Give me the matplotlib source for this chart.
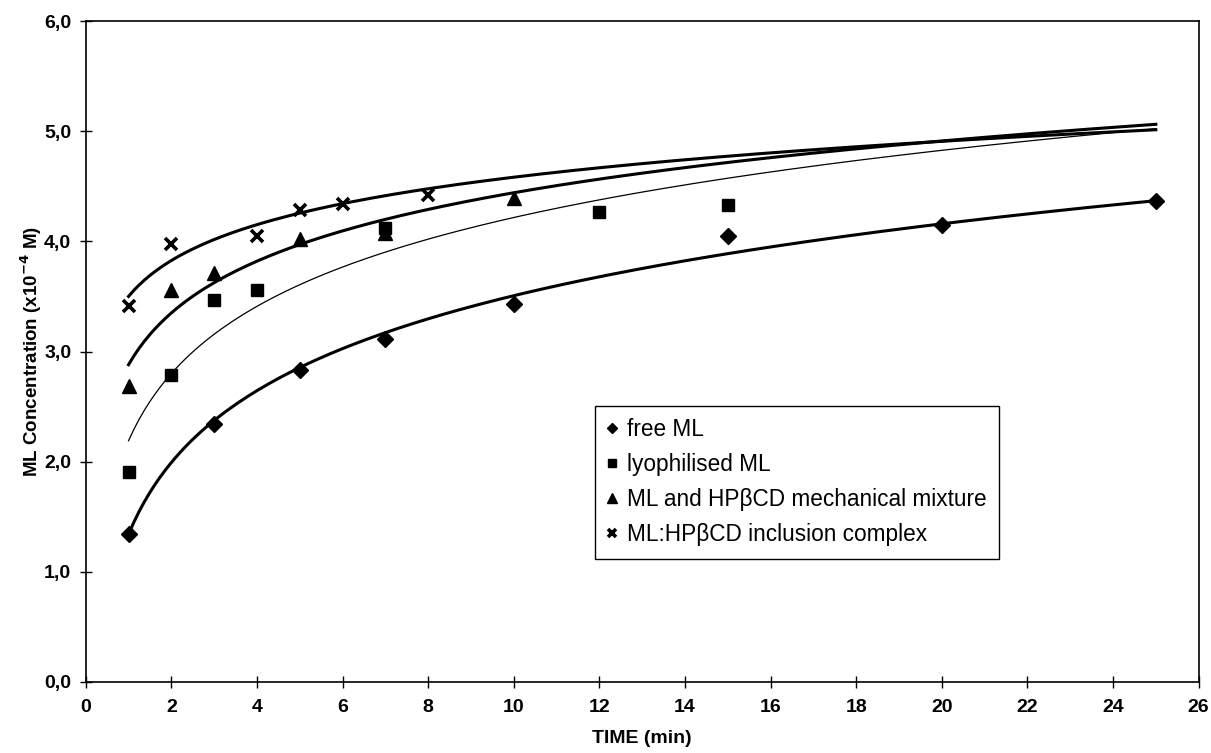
import numpy as np
import matplotlib.pyplot as plt
from matplotlib.ticker import FuncFormatter

plt.rcParams['font.family'] = ['Liberation Sans', 'DejaVu Sans']

# measured points (time in min, concentration x10^-4 M)
t_free = [1, 3, 5, 7, 10, 15, 20, 25]
c_free = [1.34, 2.34, 2.83, 3.11, 3.43, 4.05, 4.15, 4.37]

t_lyo = [1, 2, 3, 4, 7, 12, 15]
c_lyo = [1.91, 2.79, 3.47, 3.56, 4.12, 4.27, 4.33]

t_mix = [1, 2, 3, 5, 7, 10]
c_mix = [2.69, 3.56, 3.71, 4.02, 4.08, 4.39]

t_inc = [1, 2, 4, 5, 6, 8]
c_inc = [3.41, 3.98, 4.05, 4.28, 4.34, 4.42]

labels = ['free ML', 'lyophilised ML',
          'ML and HP\u03b2CD mechanical mixture',
          'ML:HP\u03b2CD inclusion complex']

# logarithmic trendlines y = a + b*ln(t), coefficients
trend_a = [1.34, 2.19, 2.88, 3.50]
trend_b = [0.941, 0.88, 0.678, 0.47]
trend_lw = [2.2, 0.9, 2.2, 2.2]

fig = plt.figure(figsize=(12.11, 7.53), dpi=100)
ax = fig.add_axes([0.0708, 0.0943, 0.919, 0.8778])

tt = np.linspace(1, 25, 200)
for a, b, lw in zip(trend_a, trend_b, trend_lw):
    ax.plot(tt, a + b * np.log(tt), color='black', lw=lw, zorder=2)

ax.plot(t_free, c_free, 'D', color='black', ms=8, ls='none', label=labels[0], zorder=3)
ax.plot(t_lyo, c_lyo, 's', color='black', ms=8.5, ls='none', label=labels[1], zorder=3)
ax.plot(t_mix, c_mix, '^', color='black', ms=10, ls='none', label=labels[2], zorder=3)
ax.plot(t_inc, c_inc, 'x', color='black', ms=9, mew=2.6, ls='none', label=labels[3], zorder=3)

ax.set_xlim(0, 26)
ax.set_ylim(0, 6)
ax.set_xticks(range(0, 27, 2))
ax.set_yticks(range(0, 7))
ax.yaxis.set_major_formatter(FuncFormatter(lambda v, p: f"{v:.1f}".replace('.', ',')))
ax.tick_params(direction='inout', length=9, width=1, labelsize=14)
ax.tick_params(axis='y', pad=6)
ax.tick_params(axis='x', pad=8)
for lab in ax.get_xticklabels() + ax.get_yticklabels():
    lab.set_fontweight('bold')
for s in ax.spines.values():
    s.set_linewidth(1.2)

ax.set_xlabel('TIME (min)', fontsize=14, fontweight='bold', labelpad=10)
ax.set_ylabel('ML Concentration (x10$^{\\mathbf{-4}}$ M)', fontsize=13.5,
              fontweight='bold', labelpad=0)

leg = ax.legend(loc='upper left', bbox_to_anchor=(0.4575, 0.4176), fontsize=16.3,
                frameon=True, fancybox=False, edgecolor='black', framealpha=1,
                handlelength=0.45, handletextpad=0.4, borderpad=0.55,
                labelspacing=0.53, markerscale=0.7, borderaxespad=0)
leg.get_frame().set_linewidth(1.0)

fig.savefig('out.png', dpi=100)
